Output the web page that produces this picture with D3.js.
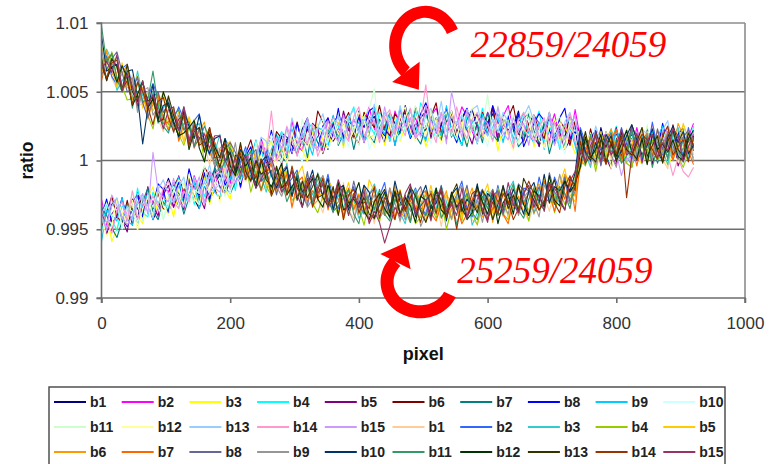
<!DOCTYPE html>
<html>
<head>
<meta charset="utf-8">
<script src="https://cdn.jsdelivr.net/npm/d3@7"></script>
<style>
  html, body { margin: 0; padding: 0; background: #fff; }
  svg { display: block; }
</style>
</head>
<body>
<svg id="chart" width="779" height="464"></svg>
<script>
// Detector pixel positions, one sample every 8 pixels (0 … 920)
const pixels = d3.range(0, 921, 8);

// Ratio per pixel, stored as (ratio − 1) × 10⁴
// First set: 22859/24059
const s1_b1 = [-39,-46,-32,-28,-43,-48,-34,-42,-26,-31, -43,-35,-23,-13,-23,-33,-26,-13,-28,-35,
  -16,-8,-19,-10,-24,-15,4,-5,-15,4, -3,12,-10,1,12,20,17,11,5,23,
  31,10,17,23,8,27,33,17,23,16, 36,15,28,32,22,13,35,27,20,40,
  24,17,31,36,19,28,15,34,30,21, 11,31,37,24,17,28,34,14,31,19,
  24,36,17,20,32,10,26,30,12,23, 17,32,26,-5,6,15,1,24,9,3,
  19,-1,13,22,5,9,19,-3,16,21, 4,14,9,25,3,18];
const s1_b2 = [-28,-47,-51,-37,-29,-39,-43,-23,-39,-25, -30,-41,-21,-22,-34,-11,-26,-29,-11,-21,
  -14,-28,-22,-2,-11,-17,1,-20,-2,6, -6,16,4,-3,16,13,6,29,11,7,
  25,17,23,8,31,17,23,34,14,30, 19,29,39,23,18,34,14,36,25,29,
  23,31,19,16,32,38,26,35,20,26, 39,32,21,13,24,35,29,16,32,40,
  21,14,26,18,33,27,11,22,34,17, 27,14,37,16,7,0,6,13,20,3,
  -3,19,13,8,24,6,2,18,13,21, 1,24,11,7,17,27];
const s1_b3 = [-51,-37,-59,-49,-39,-31,-34,-40,-46,-27, -19,-40,-33,-26,-41,-22,-16,-31,-25,-32,
  -11,-32,-18,-13,-21,-28,-3,-9,-13,9, -4,-9,7,14,-1,9,-2,18,15,8,
  -1,20,27,15,9,21,28,9,27,16, 22,35,16,19,32,11,27,31,14,25,
  19,34,29,10,21,30,15,38,23,16, 31,11,25,34,17,21,30,7,26,31,
  13,22,17,33,10,25,20,9,29,14, 25,16,5,9,14,-1,20,-2,9,5,
  12,4,16,19,3,-3,10,1,16,9, -4,4,15,23,12,1];
const s1_b4 = [-52,-31,-43,-51,-33,-36,-43,-20,-38,-41, -23,-31,-25,-39,-16,-30,-24,-12,-32,-16,
  -26,-16,-5,-20,-23,-5,-22,2,-6,0, -3,7,-3,-4,14,21,11,21,7,15,
  29,23,13,6,18,30,25,13,30,39, 21,15,27,19,35,30,14,25,38,21,
  31,18,42,33,24,17,22,29,36,18, 11,33,27,22,38,20,15,30,25,33,
  12,34,21,17,26,36,14,22,28,8, 24,31,16,-1,16,7,21,2,6,14,
  25,5,-1,12,19,8,3,22,5,17, 11,0,19,16,3,25];
const s1_b5 = [-33,-54,-39,-34,-43,-52,-28,-35,-41,-19, -34,-40,-25,-18,-34,-24,-36,-16,-19,-26,
  -35,-14,-7,-19,-24,-10,-1,-18,2,-8, 1,15,-2,3,18,-3,15,20,4,16,
  11,27,23,5,17,27,13,36,22,17, 32,13,27,36,19,24,33,11,30,35,
  18,27,22,38,16,31,26,15,36,20, 31,22,12,28,33,18,38,15,26,22,
  27,19,31,34,17,11,23,14,28,21, 8,15,25,21,10,-1,6,18,2,-6,
  13,20,8,16,0,6,23,12,-1,16, 6,20,-4,5,14,21];
const s1_b6 = [-48,-38,-26,-41,-45,-29,-47,-24,-34,-28, -33,-24,-35,-36,-19,-12,-23,-13,-27,-19,
  -5,-11,-21,-28,-15,-1,-4,-14,5,15, 0,-5,9,3,21,16,2,14,28,12,
  23,11,36,28,20,14,20,27,35,19, 12,35,29,24,40,23,18,34,29,37,
  17,39,26,22,32,42,20,28,35,14, 30,37,23,18,35,26,39,19,23,31,
  40,20,14,27,33,22,16,35,17,29, 23,11,29,14,1,23,8,4,21,10,
  17,2,7,26,15,6,22,-1,14,20, 5,26,12,3,20,16];
const s1_b7 = [-34,-40,-49,-56,-44,-32,-36,-47,-30,-20, -37,-43,-30,-36,-19,-24,-39,-27,-13,-29,
  -18,-30,-5,-13,-20,-24,-16,-7,3,-12, -16,8,4,1,19,2,-1,16,12,21,
  2,25,13,10,21,32,11,19,27,8, 24,32,18,13,30,22,35,16,20,28,
  38,18,12,25,32,21,15,34,17,28, 22,10,29,26,13,35,19,14,31,20,
  25,10,15,34,22,13,28,5,19,25, 10,30,15,-6,11,7,-1,21,2,-3,
  15,6,11,-5,17,2,8,19,-2,13, 2,12,22,6,1,16];
const s1_b8 = [-41,-28,-45,-41,-27,-48,-30,-25,-41,-28, -33,-17,-21,-38,-26,-16,-30,-6,-20,-25,
  -9,-28,-13,-3,-18,-11,1,-19,3,10, -4,7,4,22,2,18,15,5,27,13,
  25,17,8,25,31,17,38,16,28,25, 31,24,36,39,23,18,30,21,36,29,
  16,23,34,42,31,20,26,38,22,13, 31,38,26,34,18,24,40,28,15,32,
  21,34,10,19,27,34,29,22,14,31, 38,16,21,14,-2,16,22,6,11,3,
  24,2,15,19,9,-1,22,14,7,27, 11,5,19,24,7,16];
const s1_b9 = [-59,-36,-40,-44,-27,-44,-47,-30,-34,-24, -43,-20,-32,-34,-23,-12,-33,-24,-16,-35,
  -18,-10,-23,-27,-8,-14,2,-15,-8,2, 15,-3,-7,8,17,7,3,23,7,20,
  15,4,24,22,10,33,18,14,32,22, 28,14,19,38,27,19,34,11,26,32,
  17,37,23,14,31,27,18,40,21,15, 32,23,28,12,34,19,24,34,13,28,
  16,25,35,19,13,28,8,30,18,22, 16,24,11,-4,12,18,7,16,1,8,
  22,15,4,-4,7,18,13,1,17,25, 7,1,13,5,21,15];
const s1_b10 = [-53,-43,-46,-29,-50,-34,-37,-47,-25,-38, -26,-34,-43,-25,-19,-33,-12,-33,-21,-24,
  -17,-24,-11,-7,-21,-24,-9,-16,2,-3, -13,-4,9,19,10,0,8,21,6,-1,
  18,26,15,24,9,16,33,22,10,28, 18,32,8,17,26,34,29,22,15,32,
  39,17,23,28,12,30,35,19,24,15, 35,13,26,30,20,10,32,23,16,36,
  19,12,26,31,13,22,9,28,23,15, 5,25,30,5,-2,9,16,-3,14,2,
  9,21,2,5,18,-4,13,17,0,11, 5,21,16,-3,8,17];
const s1_b11 = [-39,-31,-41,-32,-47,-40,-22,-32,-44,-25, -34,-20,-43,-32,-22,-14,-18,-24,-30,-12,
  -4,-25,-18,-12,-26,-5,3,-11,-3,-9, 14,-6,9,15,7,-2,22,15,9,30,
  15,9,24,30,14,24,12,31,28,21, 11,32,38,52,18,30,36,17,34,22,
  28,40,21,24,37,15,31,35,18,28, 22,37,32,13,24,48,18,40,25,19,
  33,13,27,36,18,22,31,9,27,32, 15,24,18,22,0,15,11,0,21,6,
  18,9,-1,15,20,5,26,4,15,11, 17,10,22,25,9,3];
const s1_b12 = [-41,-55,-48,-28,-38,-46,-29,-51,-35,-27, -41,-20,-33,-40,-22,-25,-33,-10,-28,-32,
  -14,-22,-16,-31,-7,-19,-11,2,-16,1, -7,4,16,2,-1,15,-3,20,10,15,
  10,19,8,6,23,30,19,28,14,22, 35,29,18,10,21,33,27,15,31,39,
  21,14,26,18,34,28,12,23,36,18, 28,15,39,30,21,14,19,25,32,15,
  7,29,23,18,33,15,10,26,20,28, 8,30,16,0,10,20,-1,7,14,-6,
  11,18,4,-1,16,7,21,2,6,14, 24,5,-1,12,19,8];
const s1_b13 = [-43,-49,-33,-27,-43,-33,-44,-24,-27,-33, -42,-21,-14,-25,-31,-19,-12,-30,-12,-23,
  -16,-3,-21,-17,-2,-21,-2,4,-10,3, 0,17,14,-3,10,20,7,31,17,12,
  28,9,24,34,18,23,33,11,31,37, 20,30,25,41,19,35,30,19,40,25,
  36,27,17,33,38,23,43,21,32,27, 33,25,37,40,24,18,30,20,35,28,
  14,21,32,40,28,17,23,35,18,10, 28,35,22,18,2,8,25,14,1,18,
  9,22,-2,7,16,23,19,12,5,22, 29,8,14,19,3,21];
const s1_b14 = [-37,-45,-53,-36,-30,-44,-22,-43,-31,-33, -26,-33,-20,-15,-30,-35,-22,-30,-14,-20,
  -32,-24,-12,-3,-12,-20,-11,3,-10,-16, 5,14,4,36,0,7,25,15,3,21,
  12,26,3,13,23,31,27,20,14,32, 39,18,24,29,13,32,37,21,26,18,
  38,16,29,55,23,13,35,27,20,39, 23,16,30,35,18,27,14,32,28,20,
  9,29,35,22,14,25,31,12,28,16, 22,34,14,5,18,-4,13,17,0,11,
  6,21,16,-3,8,17,3,26,11,5, 4,-11,2,-8,-12,-5];
const s1_b15 = [-39,-51,-25,-33,-41,-47,-40,-32,-24,-39, 6,-22,-27,-30,-13,-30,-34,-17,-21,-12,
  -31,-8,-20,-23,-11,2,-17,-7,3,-15, 4,13,1,-2,17,9,24,6,11,20,
  31,12,7,21,29,19,14,33,17,30, 24,13,32,29,16,39,23,19,36,25,
  31,16,21,40,29,20,35,12,50,32, 17,37,23,14,31,27,18,39,20,15,
  31,22,27,11,32,17,22,33,11,26, 15,24,33,5,0,15,-4,18,7,11,
  6,-11,2,-1,15,21,10,19,4,11, 24,18,7,-1,10,21];

// Second set: 25259/24059
const s2_b1 = [74,77,60,52,65,53,62,40,41,46, 53,30,21,32,36,23,14,30,11,20,
  11,-3,13,7,-8,12,-6,-12,3,-10, -6,-22,-19,-1,-14,-24,-10,-35,-21,-16,
  -32,-13,-28,-38,-22,-27,-37,-16,-36,-42, -25,-35,-30,-46,-25,-40,-35,-24,-45,-30,
  -41,-32,-22,-38,-43,-28,-48,-26,-37,-33, -39,-31,-43,-46,-30,-24,-35,-26,-41,-33,
  -20,-26,-37,-44,-32,-21,-26,-37,-20,-11, -28,-34,-21,-1,15,9,-6,5,18,1,
  12,-1,23,14,5,-2,4,11,18,1, -6,17,11,6,22,4];
const s2_b2 = [72,76,61,55,67,70,54,60,42,46, 56,46,32,22,30,39,30,15,29,34,
  13,4,13,2,16,8,-10,-1,10,-9, -1,-15,7,-3,-14,-22,-18,-13,-7,-25,
  -33,-12,-19,-25,-10,-29,-35,-20,-26,-19, -39,-18,-31,-35,-26,-16,-38,-30,-23,-43,
  -27,-20,-34,-39,-22,-31,-18,-37,-33,-25, -15,-35,-41,-28,-21,-32,-37,-18,-35,-22,
  -28,-39,-20,-22,-34,-12,-27,-30,-12,-22, -15,-29,-23,24,13,4,20,-3,12,18,
  4,24,10,1,18,14,6,28,9,4, 21,13,18,2,24,9];
const s2_b3 = [70,81,73,51,58,64,45,65,47,38, 50,27,38,45,25,27,33,8,25,27,
  7,14,6,19,-5,8,1,-12,7,-10, -1,-11,-23,-8,-5,-21,-2,-26,-16,-21,
  -16,-25,-14,-12,-29,-36,-25,-35,-21,-29, -42,-36,-25,-17,-29,-40,-34,-22,-38,-46,
  -28,-21,-33,-25,-41,-35,-19,-30,-43,-26, -36,-23,-47,-38,-29,-22,-26,-33,-40,-22,
  -15,-36,-30,-24,-39,-21,-15,-30,-24,-31, -10,-31,-17,15,5,-5,18,10,3,23,
  8,1,15,20,3,12,0,19,15,7, -3,18,24,11,4,15];
const s2_b4 = [75,58,79,67,54,44,45,49,53,33, 23,42,33,26,39,19,11,24,17,22,
  -1,19,3,-4,4,12,-12,-6,-1,-23, -9,-3,-19,-25,-10,-20,-8,-29,-26,-19,
  -10,-31,-38,-26,-20,-32,-39,-21,-39,-28, -34,-47,-28,-31,-45,-23,-39,-43,-26,-37,
  -31,-46,-41,-22,-33,-42,-27,-50,-35,-29, -44,-24,-38,-47,-30,-34,-42,-20,-39,-43,
  -26,-34,-29,-44,-21,-36,-30,-18,-38,-22, -32,-22,-11,1,-4,11,-8,14,3,7,
  2,10,-2,-5,11,17,6,15,0,7, 20,14,3,-5,6,17];
const s2_b5 = [83,70,72,53,71,53,54,62,38,50, 36,42,49,31,23,36,13,32,19,20,
  11,17,2,-4,10,14,0,7,-10,-5, 6,-2,-15,-24,-15,-5,-12,-26,-11,-4,
  -23,-31,-20,-29,-14,-21,-38,-28,-16,-34, -24,-38,-14,-23,-33,-40,-35,-28,-21,-38,
  -45,-23,-29,-34,-18,-36,-41,-25,-30,-22, -42,-20,-33,-37,-27,-17,-38,-30,-23,-42,
  -26,-18,-32,-36,-18,-27,-13,-31,-26,-17, -6,-25,-30,11,18,7,2,21,4,16,
  11,-1,18,15,2,24,9,5,22,11, 17,3,8,27,16,7];
const s2_b6 = [62,80,64,57,63,70,44,49,53,30, 43,47,30,23,37,26,36,14,16,21,
  28,6,-3,7,12,-1,-9,8,-11,-1, -9,-22,-5,-9,-24,-3,-20,-26,-10,-22,
  -17,-33,-29,-11,-23,-33,-19,-43,-29,-24, -39,-20,-34,-43,-27,-31,-40,-18,-37,-42,
  -25,-34,-29,-45,-23,-38,-33,-22,-43,-28, -39,-30,-20,-36,-41,-26,-45,-23,-34,-29,
  -35,-26,-38,-40,-23,-17,-28,-18,-32,-24, -10,-16,-26,-6,5,16,11,-1,15,23,
  6,-1,11,3,19,13,-2,9,22,5, 15,3,27,18,9,2];
const s2_b7 = [58,74,77,61,50,58,60,38,52,37, 40,49,27,28,38,14,27,28,9,17,
  8,21,13,-9,0,7,-10,11,-6,-14, -1,-22,-10,-2,-21,-18,-10,-34,-16,-12,
  -30,-22,-28,-13,-36,-22,-28,-40,-20,-36, -25,-35,-45,-29,-25,-40,-20,-42,-31,-35,
  -29,-37,-25,-22,-38,-44,-32,-41,-26,-33, -46,-39,-28,-20,-31,-42,-35,-23,-39,-46,
  -28,-20,-32,-23,-38,-32,-15,-25,-37,-19, -28,-14,-37,0,9,16,12,5,-2,15,
  23,1,7,12,-4,14,20,4,9,1, 21,0,13,17,7,-3];
const s2_b8 = [63,66,74,79,64,50,52,61,42,31, 46,50,35,41,22,26,39,25,10,24,
  11,22,-5,1,8,13,6,-3,-12,3, 8,-15,-11,-7,-25,-8,-4,-22,-18,-27,
  -8,-31,-19,-16,-27,-38,-17,-26,-34,-15, -31,-39,-25,-20,-38,-29,-42,-23,-27,-35,
  -45,-25,-19,-32,-39,-28,-22,-41,-24,-36, -30,-18,-37,-34,-21,-43,-26,-22,-39,-27,
  -33,-17,-22,-40,-28,-19,-33,-9,-23,-28, -12,-31,-16,21,4,8,18,-4,15,20,
  4,13,8,24,2,17,13,2,23,8, 19,11,1,17,22,7];
const s2_b9 = [82,58,69,75,54,55,60,35,51,53, 33,39,31,45,20,33,25,11,30,12,
  20,9,-4,9,12,-5,13,-11,-2,-8, -4,-13,-3,-1,-19,-26,-15,-26,-12,-20,
  -34,-28,-18,-11,-23,-35,-30,-19,-36,-45, -27,-21,-33,-25,-42,-36,-20,-31,-44,-27,
  -37,-24,-48,-39,-30,-23,-28,-35,-42,-25, -18,-40,-34,-29,-45,-27,-21,-37,-32,-39,
  -19,-40,-27,-22,-31,-41,-18,-25,-31,-10, -25,-31,-16,17,0,9,-3,16,12,4,
  -5,15,21,8,1,12,19,0,17,5, 11,24,5,8,21,-1];
const s2_b10 = [91,65,68,70,50,65,66,47,12,38, 55,30,40,42,29,17,36,25,16,33,
  14,5,16,18,-1,6,-9,8,2,-8, -20,-1,3,-11,-20,-10,-5,-26,-10,-23,
  -18,-7,-27,-25,-13,-36,-21,-18,-36,-26, -32,-18,-23,-42,-32,-23,-38,-15,-30,-36,
  -21,-41,-27,-18,-35,-31,-22,-44,-25,-20, -37,-28,-33,-17,-39,-24,-28,-39,-18,-32,
  -21,-29,-39,-22,-16,-31,-10,-31,-19,-22, -15,-22,-9,22,6,0,13,4,19,12,
  0,7,18,26,15,4,11,23,7,-1, 17,25,13,21,5,11];
const s2_b11 = [98,71,78,59,50,62,38,57,43,44, 65,40,25,20,33,37,22,28,11,15,
  25,16,2,-9,0,9,1,-13,1,7, -13,-21,-11,-20,-6,-13,-30,-21,-9,-27,
  -18,-32,-9,-19,-29,-37,-33,-27,-21,-39, -46,-25,-31,-36,-21,-39,-44,-28,-33,-25,
  -45,-23,-36,-40,-30,-20,-42,-34,-27,-47, -31,-24,-38,-43,-26,-35,-21,-40,-36,-27,
  -17,-36,-42,-28,-20,-31,-36,-16,-32,-19, -24,-35,-15,10,-3,19,4,0,17,6,
  13,-2,3,22,11,2,18,-5,10,16, 1,22,8,-1,16,12];
const s2_b12 = [70,59,68,57,69,60,40,48,58,38, 45,29,50,39,27,18,20,24,29,9,
  -1,19,10,2,16,-4,-11,3,-4,2, -20,1,-14,-19,-11,-2,-25,-19,-13,-34,
  -19,-13,-28,-34,-18,-28,-16,-36,-33,-26, -16,-37,-43,-30,-24,-35,-41,-22,-39,-27,
  -33,-45,-26,-29,-42,-20,-36,-40,-23,-34, -28,-43,-38,-19,-30,-39,-23,-46,-31,-24,
  -39,-18,-32,-40,-22,-26,-34,-11,-29,-33, -15,-23,-17,-5,17,2,8,19,-2,13,
  3,12,22,6,1,16,-3,19,8,12, 6,15,3,0,16,22];
const s2_b13 = [74,58,74,68,51,70,50,43,57,43, 46,28,30,47,33,22,34,8,21,24,
  6,24,7,-5,10,4,-7,13,-8,-15, 0,-10,-7,-24,-4,-20,-16,-7,-29,-15,
  -27,-19,-10,-27,-33,-19,-40,-19,-31,-28, -34,-27,-39,-42,-27,-21,-33,-24,-39,-32,
  -19,-26,-37,-45,-34,-23,-29,-41,-25,-17, -35,-42,-30,-38,-22,-28,-43,-32,-19,-35,
  -25,-37,-13,-21,-29,-36,-30,-22,-14,-30, -36,-13,-18,5,21,3,-1,15,10,18,
  -1,21,8,4,14,24,3,11,18,-2, 14,22,8,3,20,11];
const s2_b14 = [71,60,71,73,52,58,41,57,50,39, 26,43,46,31,21,30,33,11,26,11,
  14,24,2,2,13,-11,3,5,-14,-5, -13,1,-6,-26,-17,-9,-25,-4,-20,-27,
  -13,-34,-21,-13,-31,-28,-20,-43,-25,-21, -38,-30,-35,-19,-42,-27,-32,-43,-22,-37,
  -26,-35,-45,-29,-24,-39,-19,-41,-30,-50, -28,-36,-24,-21,-37,-43,-30,-39,-24,-30,
  -43,-35,-24,-15,-25,-36,-29,-16,-31,-38, -19,-11,-22,14,-2,4,21,10,-3,14,
  5,18,-27,3,12,19,15,8,1,18, 25,4,10,15,-1,17];
const s2_b15 = [67,72,64,77,51,63,54,40,58,40, 48,36,23,37,39,22,39,14,23,16,
  19,9,18,18,0,-8,2,-9,4,-5, -20,-14,-5,2,-11,-23,-18,-8,-25,-34,
  -17,-11,-24,-17,-34,-29,-14,-26,-40,-24, -34,-22,-46,-37,-45,-60,-48,-34,-41,-24,
  -17,-39,-33,-28,-44,-26,-21,-37,-32,-40, -20,-42,-29,-25,-35,-45,-22,-30,-37,-16,
  -32,-38,-24,-18,-34,-25,-37,-17,-20,-27, -36,-15,-8,7,0,11,18,-1,16,4,
  11,23,4,7,20,-2,15,19,2,13, 7,23,18,-1,10,19];

const seriesValues = [
  s1_b1, s1_b2, s1_b3, s1_b4, s1_b5, s1_b6, s1_b7, s1_b8, s1_b9, s1_b10,
  s1_b11, s1_b12, s1_b13, s1_b14, s1_b15,
  s2_b1, s2_b2, s2_b3, s2_b4, s2_b5, s2_b6, s2_b7, s2_b8, s2_b9, s2_b10,
  s2_b11, s2_b12, s2_b13, s2_b14, s2_b15
];
const seriesLabels = [
  "b1","b2","b3","b4","b5","b6","b7","b8","b9","b10","b11","b12","b13","b14","b15",
  "b1","b2","b3","b4","b5","b6","b7","b8","b9","b10","b11","b12","b13","b14","b15"
];
const seriesColors = [
  "#000080","#FF00FF","#FFFF00","#00FFFF","#800080","#800000","#008080","#0000FF",
  "#00CCFF","#CCFFFF","#CCFFCC","#FFFF99","#99CCFF","#FF99CC","#CC99FF",
  "#FFCC99","#3366FF","#33CCCC","#99CC00","#FFCC00","#FF9900","#FF6600","#666699",
  "#969696","#003366","#339966","#003300","#333300","#993300","#993366"
];

// Axis ticks
const yTickValues = [-100, -50, 0, 50, 100];
const yTickLabels = ["0.99", "0.995", "1", "1.005", "1.01"];
const xTickValues = [0, 200, 400, 600, 800, 1000];
const xTickLabels = ["0", "200", "400", "600", "800", "1000"];

// Annotations: ratio pairs with curved pointers
const noteTexts = ["22859/24059", "25259/24059"];

const svg = d3.select("#chart");
const FONT = "'Liberation Sans', Arial, Helvetica, sans-serif";
const plot = { left: 101.5, right: 745, top: 23, bottom: 298 };

const x = d3.scaleLinear().domain([0, 1000]).range([plot.left, plot.right]);
const y = d3.scaleLinear().domain([-100, 100]).range([plot.bottom, plot.top]);

// Gridlines and frame
const gGrid = svg.append("g");
gGrid.selectAll("line.grid")
  .data(yTickValues.filter(v => v > -100))
  .join("line")
  .attr("x1", plot.left).attr("x2", plot.right)
  .attr("y1", d => y(d)).attr("y2", d => y(d))
  .attr("stroke", d => d === 100 ? "#8c8c8c" : "#6e6e6e")
  .attr("stroke-width", 1.6);
gGrid.append("line")
  .attr("x1", plot.right).attr("x2", plot.right)
  .attr("y1", plot.top).attr("y2", plot.bottom)
  .attr("stroke", "#8c8c8c").attr("stroke-width", 1.6);

// Data lines
svg.append("defs").append("clipPath").attr("id", "plotClip")
  .append("rect")
  .attr("x", plot.left).attr("y", plot.top - 2)
  .attr("width", plot.right - plot.left).attr("height", plot.bottom - plot.top + 2);

const line = d3.line()
  .x((d, i) => x(pixels[i]))
  .y(d => y(d));

svg.append("g").attr("clip-path", "url(#plotClip)")
  .selectAll("path")
  .data(seriesValues)
  .join("path")
  .attr("d", d => line(d))
  .attr("fill", "none")
  .attr("stroke", (d, i) => seriesColors[i])
  .attr("stroke-width", 1.1)
  .attr("stroke-linejoin", "round");

// Axes
const yAxis = d3.axisLeft(y).tickValues(yTickValues)
  .tickFormat((d, i) => yTickLabels[i]).tickSize(5).tickPadding(8);
const xAxis = d3.axisBottom(x).tickValues(xTickValues)
  .tickFormat((d, i) => xTickLabels[i]).tickSize(5).tickPadding(14);

function styleAxis(g) {
  g.select(".domain").attr("stroke", "#6e6e6e").attr("stroke-width", 1.6);
  g.selectAll(".tick line").attr("stroke", "#6e6e6e").attr("stroke-width", 1.6);
  g.selectAll(".tick text").attr("fill", "#333").style("font-family", FONT).style("font-size", "17px");
}
svg.append("g").attr("transform", `translate(${plot.left},0)`).call(yAxis).call(styleAxis)
  .call(g => g.select(".domain").attr("d", `M-5,${plot.top}H0V${plot.bottom}H-5`));
svg.append("g").attr("transform", `translate(0,${plot.bottom})`).call(xAxis).call(styleAxis)
  .call(g => g.select(".domain").attr("d", `M${plot.left},5V0H${plot.right}V5`));

// Axis titles
svg.append("text")
  .attr("transform", `translate(33,${y(0)}) rotate(-90)`)
  .attr("text-anchor", "middle")
  .style("font-family", FONT).style("font-size", "17.5px").style("font-weight", "bold")
  .attr("fill", "#111")
  .text("ratio");
svg.append("text")
  .attr("x", x(500)).attr("y", 360)
  .attr("text-anchor", "middle")
  .style("font-family", FONT).style("font-size", "18px").style("font-weight", "bold")
  .attr("fill", "#111")
  .text("pixel");

// Curved pointer: thick elliptical band ending in a triangular head
function pointer(cx, cy, rx, ry, w, t0, t1, headDir, headLen, headHalf) {
  const n = 48, rad = Math.PI / 180;
  const outer = [], inner = [];
  for (let i = 0; i <= n; i++) {
    const t = (t0 + (t1 - t0) * i / n) * rad;
    outer.push([cx + (rx + w / 2) * Math.cos(t), cy + (ry + w / 2) * Math.sin(t)]);
    inner.push([cx + (rx - w / 2) * Math.cos(t), cy + (ry - w / 2) * Math.sin(t)]);
  }
  const band = outer.concat(inner.reverse());
  const te = t1 * rad;
  const bx = cx + rx * Math.cos(te), by = cy + ry * Math.sin(te);
  const [dx, dy] = headDir;
  const L = Math.hypot(dx, dy), ux = dx / L, uy = dy / L;
  const head = [
    [bx - uy * headHalf, by + ux * headHalf],
    [bx + ux * headLen, by + uy * headLen],
    [bx + uy * headHalf, by - ux * headHalf]
  ];
  const g = svg.append("g").attr("fill", "#ff0000");
  g.append("path").attr("d", "M" + band.map(p => p.join(",")).join("L") + "Z");
  g.append("path").attr("d", "M" + head.map(p => p.join(",")).join("L") + "Z");
}

pointer(x(503), y(83.4), 30, 34, 12, -25, -230, [0.59, 0.81], 22, 17);
pointer(x(495), y(-88.2), 33, 30, 13, 25, 222, [0.45, -0.89], 21, 17);

svg.selectAll("text.note")
  .data(noteTexts)
  .join("text")
  .attr("class", "note")
  .attr("x", (d, i) => i === 0 ? x(574) : x(553))
  .attr("y", (d, i) => i === 0 ? 57 : 283)
  .style("font-family", "'Liberation Serif', 'Times New Roman', serif")
  .style("font-style", "italic")
  .style("font-size", "37px")
  .attr("fill", "#ff0000")
  .text(d => d);

// Legend
const legend = svg.append("g");
legend.append("rect")
  .attr("x", 49).attr("y", 387).attr("width", 676).attr("height", 92)
  .attr("fill", "#fff").attr("stroke", "#444").attr("stroke-width", 1.4);
const items = legend.selectAll("g.item")
  .data(seriesLabels)
  .join("g")
  .attr("class", "item")
  .attr("transform", (d, i) => `translate(${54 + (i % 10) * 67.7},${402 + Math.floor(i / 10) * 25})`);
items.append("line")
  .attr("x1", 0).attr("x2", 32).attr("y1", 0).attr("y2", 0)
  .attr("stroke", (d, i) => seriesColors[i]).attr("stroke-width", 2);
items.append("text")
  .attr("x", 36).attr("y", 0).attr("dy", "0.36em")
  .style("font-family", FONT).style("font-size", "14px").style("font-weight", "bold")
  .attr("fill", "#222")
  .text(d => d);
</script>
</body>
</html>
